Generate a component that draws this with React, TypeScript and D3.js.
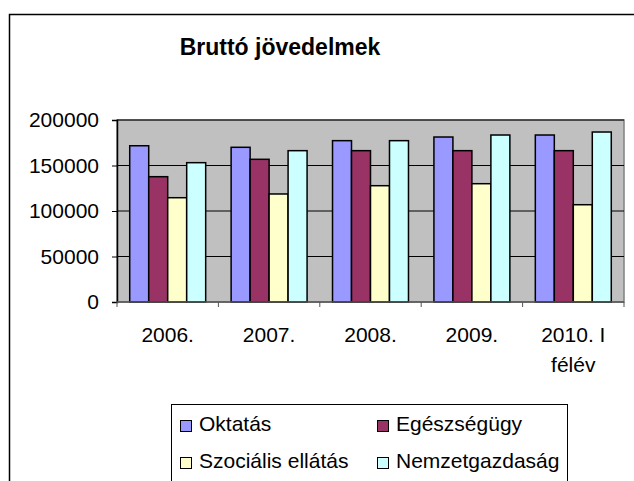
import * as d3 from 'd3'
import React, { useEffect, useRef } from 'react'

const categories = ['2006.', '2007.', '2008.', '2009.', '2010. I félév']
const categoryLines = [['2006.'], ['2007.'], ['2008.'], ['2009.'], ['2010. I', 'félév']]
const seriesNames = ['Oktatás', 'Egészségügy', 'Szociális ellátás', 'Nemzetgazdaság']
const seriesColors = ['#9999FF', '#993366', '#FFFFCC', '#CCFFFF']
const oktatas = [171700, 170000, 177300, 181300, 183500]
const egeszsegugy = [137700, 156800, 166300, 166300, 166300]
const szocialis = [114600, 118700, 127800, 130000, 106900]
const nemzetgazdasag = [153100, 166300, 177300, 183500, 186800]
const yTicks = [0, 50000, 100000, 150000, 200000]

const seriesValues = [oktatas, egeszsegugy, szocialis, nemzetgazdasag]

export default function App() {
  const ref = useRef<SVGSVGElement>(null)

  useEffect(() => {
    const svg = d3.select(ref.current)
    svg.selectAll('*').remove()
    const font = 'Liberation Sans, Arial, sans-serif'

    // chart frame
    svg.append('rect')
      .attr('x', 9.5).attr('y', 14.5).attr('width', 640).attr('height', 480)
      .attr('fill', '#fff').attr('stroke', '#000').attr('stroke-width', 1.5)

    svg.append('text')
      .attr('x', 280).attr('y', 55)
      .attr('text-anchor', 'middle')
      .style('font-family', font).style('font-weight', 'bold').style('font-size', '23px')
      .text('Bruttó jövedelmek')

    const left = 117, right = 624, top = 120, bottom = 302

    const x0 = d3.scaleBand().domain(categories).range([left, right])
    const x1 = d3.scaleBand().domain(seriesNames).range([0, x0.bandwidth()]).paddingOuter(0.67)
    const y = d3.scaleLinear().domain([0, 200000]).range([bottom, top])

    svg.append('rect')
      .attr('x', left).attr('y', top).attr('width', right - left).attr('height', bottom - top)
      .attr('fill', '#C0C0C0').attr('stroke', '#808080').attr('stroke-width', 1.5)

    svg.append('g').selectAll('line').data(yTicks.slice(1)).join('line')
      .attr('x1', left).attr('x2', right)
      .attr('y1', d => y(d)).attr('y2', d => y(d))
      .attr('stroke', '#000').attr('stroke-width', 1)

    const rows = categories.map((c, i) => seriesNames.map((s, j) => ({ c, s, j, v: seriesValues[j][i] })))
    svg.append('g').selectAll('g').data(rows).join('g')
      .attr('transform', d => `translate(${x0(d[0].c)},0)`)
      .selectAll('rect').data(d => d).join('rect')
      .attr('x', d => x1(d.s)!)
      .attr('y', d => y(d.v))
      .attr('width', x1.bandwidth())
      .attr('height', d => y(0) - y(d.v))
      .attr('fill', d => seriesColors[d.j])
      .attr('stroke', '#000').attr('stroke-width', 1.5)

    // y axis
    const yAxis = svg.append('g').attr('transform', `translate(${left},0)`)
      .call(d3.axisLeft(y).tickValues(yTicks).tickSize(5).tickPadding(13).tickFormat(d3.format('d')))
    yAxis.select('.domain').attr('stroke', '#000').attr('stroke-width', 1.5)
    yAxis.selectAll('.tick line').attr('stroke', '#000')
    yAxis.selectAll('text').style('font-family', font).style('font-size', '21px').attr('fill', '#000')

    // x axis
    const xAxis = svg.append('g').attr('transform', `translate(0,${bottom})`)
    xAxis.append('line').attr('x1', left).attr('x2', right).attr('stroke', '#555').attr('stroke-width', 1.5)
    xAxis.selectAll('line.tk').data(d3.range(categories.length + 1)).join('line')
      .attr('class', 'tk')
      .attr('x1', i => left + i * x0.step()).attr('x2', i => left + i * x0.step())
      .attr('y1', 0).attr('y2', 5).attr('stroke', '#555').attr('stroke-width', 1)
    xAxis.selectAll('text').data(categories).join('text')
      .attr('x', d => x0(d)! + x0.bandwidth() / 2)
      .attr('y', 40)
      .attr('text-anchor', 'middle')
      .style('font-family', font).style('font-size', '21px')
      .selectAll('tspan').data((d, i) => categoryLines[i]).join('tspan')
      .attr('x', function () { return (this.parentNode as SVGTextElement).getAttribute('x') })
      .attr('dy', (d, i) => (i === 0 ? 0 : 30))
      .text(d => d)

    // legend
    const legend = svg.append('g')
    legend.append('rect')
      .attr('x', 171.5).attr('y', 404.5).attr('width', 396).attr('height', 100)
      .attr('fill', '#fff').attr('stroke', '#000').attr('stroke-width', 1)
    const items = legend.selectAll('g').data(seriesNames).join('g')
      .attr('transform', (d, i) => `translate(${i % 2 === 0 ? 180 : 377},${i < 2 ? 420 : 457})`)
    items.append('rect')
      .attr('x', 0.5).attr('y', 0.5).attr('width', 11).attr('height', 11)
      .attr('fill', (d, i) => seriesColors[i]).attr('stroke', '#000').attr('stroke-width', 1)
    items.append('text')
      .attr('x', 19).attr('y', 10.5)
      .style('font-family', font).style('font-size', '21px')
      .text(d => d)
  }, [])

  return (
    <svg ref={ref} width={634} height={481}
      style={{ position: 'absolute', left: 0, top: 0, background: '#fff' }} />
  )
}
